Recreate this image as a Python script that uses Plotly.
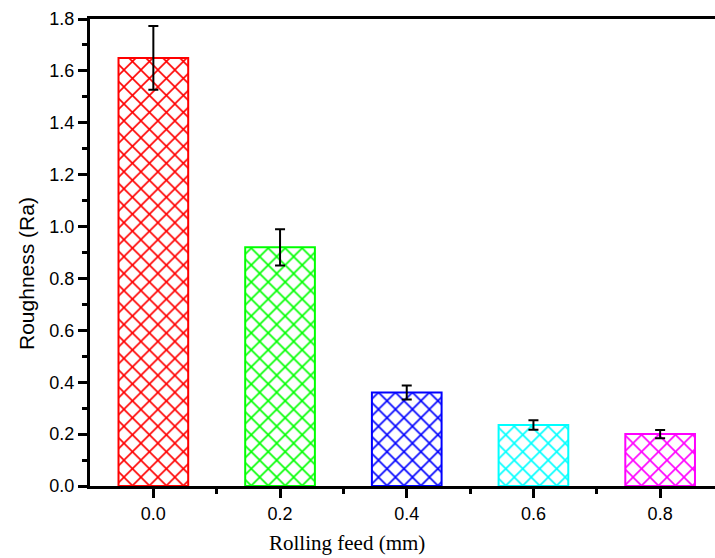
import plotly.graph_objects as go

feed = [0.0, 0.2, 0.4, 0.6, 0.8]
tick_labels = ["0.0", "0.2", "0.4", "0.6", "0.8"]
roughness = [1.65, 0.92, 0.36, 0.235, 0.20]
roughness_err = [0.123, 0.07, 0.027, 0.018, 0.016]
colors = ["#FF0000", "#00FF00", "#0000FF", "#00FFFF", "#FF00FF"]

fig = go.Figure()
fig.add_trace(go.Bar(
    x=feed, y=roughness, width=0.11,
    marker=dict(
        color="white",
        line=dict(color=colors, width=2),
        pattern=dict(shape="x", fgcolor=colors, bgcolor="white", size=12, solidity=0.25,
                     fillmode="replace", fgopacity=1),
    ),
    error_y=dict(type="data", array=roughness_err, color="black", thickness=2, width=5),
    showlegend=False,
))

axis_font = dict(family="Liberation Sans, Arial, sans-serif", size=18, color="black")

fig.update_layout(
    width=715, height=558,
    margin=dict(l=90, r=0, t=19, b=72),
    plot_bgcolor="white", paper_bgcolor="white",
    xaxis=dict(
        range=[-0.1, 0.8866],
        tickmode="array", tickvals=feed, ticktext=tick_labels,
        showline=True, linecolor="black", linewidth=3, mirror=True,
        ticks="outside", ticklen=9, tickwidth=3, tickcolor="black",
        minor=dict(tickvals=[0.1, 0.3, 0.5, 0.7], ticks="outside", ticklen=5, tickwidth=3, tickcolor="black"),
        showgrid=False, zeroline=False,
        tickfont=axis_font,
    ),
    yaxis=dict(
        range=[0, 1.8], dtick=0.2, tick0=0, tickformat=".1f",
        showline=True, linecolor="black", linewidth=3,
        ticks="outside", ticklen=9, tickwidth=3, tickcolor="black",
        minor=dict(dtick=0.1, ticks="outside", ticklen=5, tickwidth=3, tickcolor="black"),
        showgrid=False, zeroline=False,
        tickfont=axis_font,
    ),
    annotations=[
        dict(text="Roughness (Ra)", xref="paper", yref="paper",
             x=(26 - 90) / 625, y=(486 - 274) / 467, xanchor="center", yanchor="middle",
             textangle=-90, showarrow=False,
             font=dict(family="Liberation Sans, Arial, sans-serif", size=21, color="black")),
        dict(text="Rolling feed (mm)", xref="paper", yref="paper",
             x=(347 - 90) / 625, y=-(543 - 486) / 467, xanchor="center", yanchor="middle",
             showarrow=False,
             font=dict(family="Liberation Serif, Times New Roman, serif", size=21, color="black")),
    ],
)

fig.write_html("out.html")
